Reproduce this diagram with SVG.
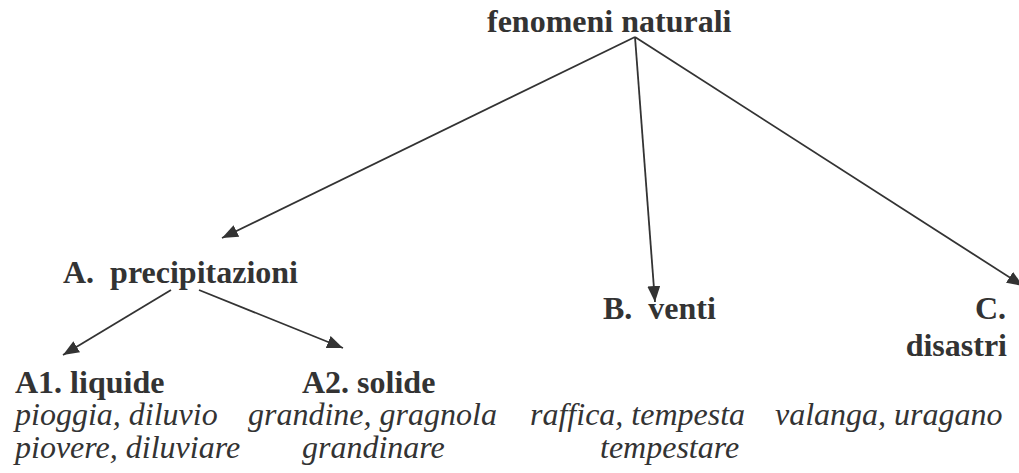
<svg xmlns="http://www.w3.org/2000/svg" width="1019" height="473" viewBox="0 0 1019 473">
<defs>
<marker id="ah" markerUnits="userSpaceOnUse" markerWidth="18" markerHeight="14" refX="16" refY="6.5" orient="auto">
<path d="M0,0 L16,6.5 L0,13 z" fill="#333"/>
</marker>
<style>
.b{font-family:"Liberation Serif","Times New Roman",serif;font-weight:bold;font-size:32px;fill:#333}
.i{font-family:"Liberation Serif","Times New Roman",serif;font-style:italic;font-size:32px;fill:#333}
.c line{stroke:#333;stroke-width:1.8;marker-end:url(#ah)}
</style>
</defs>
<rect width="1019" height="473" fill="#fff"/>
<g id="connectors" class="c">
<line x1="635" y1="37" x2="222" y2="238"/>
<line x1="635" y1="37" x2="655" y2="302"/>
<line x1="635" y1="37" x2="1023" y2="286"/>
<line x1="171" y1="290" x2="63" y2="355"/>
<line x1="199" y1="290" x2="343" y2="348"/>
</g>
<g id="root"><text class="b" x="487" y="32">fenomeni naturali</text></g>
<g id="nodeA"><text class="b" x="63" y="283" xml:space="preserve">A.  precipitazioni</text></g>
<g id="nodeB"><text class="b" x="603" y="319" xml:space="preserve">B.  venti</text></g>
<g id="nodeC"><text class="b" x="1006" y="319" text-anchor="end">C.</text><text class="b" x="1007" y="356" text-anchor="end">disastri</text></g>
<g id="nodeA1"><text class="b" x="15" y="393">A1. liquide</text>
<text class="i" x="15" y="425">pioggia, diluvio</text>
<text class="i" x="15" y="458">piovere, diluviare</text></g>
<g id="nodeA2"><text class="b" x="302" y="393">A2. solide</text>
<text class="i" x="248" y="425">grandine, gragnola</text>
<text class="i" x="302" y="458">grandinare</text></g>
<g id="wordsB"><text class="i" x="530" y="425">raffica, tempesta</text>
<text class="i" x="600" y="458">tempestare</text></g>
<g id="wordsC"><text class="i" x="775" y="425">valanga, uragano</text></g>
</svg>
